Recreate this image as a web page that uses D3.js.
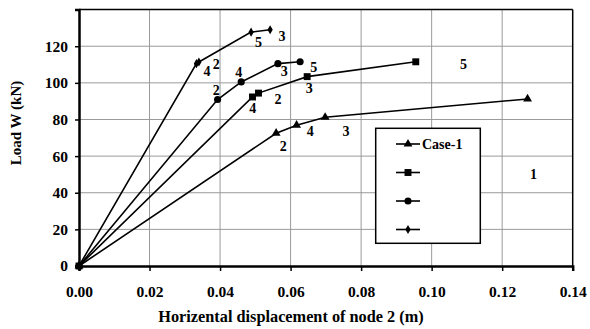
<!DOCTYPE html>
<html>
<head>
<meta charset="utf-8">
<script src="https://cdn.jsdelivr.net/npm/d3@7/dist/d3.min.js"></script>
<style>
  html, body { margin: 0; padding: 0; background: #fff; }
  svg text { font-family: "Liberation Serif", "Times New Roman", serif; font-weight: bold; fill: #000; }
</style>
</head>
<body>
<svg id="chart" width="590" height="329"></svg>
<script>
// load-displacement curves
const case1X = [0, 0.0559, 0.0617, 0.0698, 0.1272];
const case1Y = [0, 72.5, 76.9, 81.2, 91.2];
const case2X = [0, 0.0492, 0.0509, 0.0647, 0.0955];
const case2Y = [0, 92.3, 94.4, 103.4, 111.5];
const case3X = [0, 0.0393, 0.0460, 0.0564, 0.0627];
const case3Y = [0, 90.9, 100.5, 110.5, 111.5];
const case4X = [0, 0.0333, 0.0340, 0.0488, 0.0542];
const case4Y = [0, 110.5, 111.4, 127.7, 129.0];

const seriesNames = ['Case-1', '', '', ''];
const seriesMarkers = ['triangle', 'square', 'circle', 'diamond'];

// small point-number annotations
const noteX = [0.0579, 0.0656, 0.0757, 0.1289,
               0.0493, 0.0564, 0.0653, 0.1090,
               0.0389, 0.0453, 0.0582, 0.0666,
               0.0363, 0.0389, 0.0509, 0.0576];
const noteY = [65.5, 73.7, 73.9, 50.1,
               86.1, 91.2, 97.4, 110.0,
               96.0, 105.8, 106.3, 108.8,
               106.3, 110.3, 122.3, 125.7];
const noteText = ['2', '4', '3', '1',
                  '4', '2', '3', '5',
                  '2', '4', '3', '5',
                  '4', '2', '5', '3'];

const xTicks = [0, 0.02, 0.04, 0.06, 0.08, 0.10, 0.12, 0.14];
const yTicks = [0, 20, 40, 60, 80, 100, 120];

const svg = d3.select('#chart');
const plotL = 79, plotR = 572.7, plotT = 9.6, plotB = 266;

const x = d3.scaleLinear().domain([0, 0.14]).range([plotL, plotR]);
const y = d3.scaleLinear().domain([0, 140]).range([plotB, plotT]);

// grid
const grid = svg.append('g');
grid.selectAll('line.v').data(xTicks.slice(1, -1)).join('line')
  .attr('x1', d => x(d)).attr('x2', d => x(d)).attr('y1', plotT).attr('y2', plotB)
  .attr('stroke', '#9a9a9a').attr('stroke-width', 1);
grid.selectAll('line.h').data(yTicks.slice(1)).join('line')
  .attr('x1', plotL).attr('x2', plotR).attr('y1', d => y(d)).attr('y2', d => y(d))
  .attr('stroke', '#9a9a9a').attr('stroke-width', 1);

// frame top/right
svg.append('line').attr('x1', plotL).attr('x2', plotR).attr('y1', plotT).attr('y2', plotT)
  .attr('stroke', '#000').attr('stroke-width', 1.5);
svg.append('line').attr('x1', plotR).attr('x2', plotR).attr('y1', plotT).attr('y2', plotB)
  .attr('stroke', '#000').attr('stroke-width', 1.5);

// axes
const xAxis = svg.append('g').attr('transform', `translate(0,${plotB})`)
  .call(d3.axisBottom(x).tickValues(xTicks).tickFormat(d3.format('.2f')).tickSize(5).tickPadding(15));
const yAxis = svg.append('g').attr('transform', `translate(${plotL},0)`)
  .call(d3.axisLeft(y).tickValues(yTicks).tickSize(4).tickPadding(7));
[xAxis, yAxis].forEach(a => {
  a.attr('font-size', 15.5).attr('font-family', null);
  a.select('.domain').attr('stroke', '#000').attr('stroke-width', 2.5);
  a.selectAll('.tick line').attr('stroke', '#000').attr('stroke-width', 1.5);
  a.selectAll('.tick text').attr('font-size', 15.5);
});

// titles
svg.append('text').attr('x', 291).attr('y', 322).attr('text-anchor', 'middle')
  .attr('font-size', 16.3).text('Horizental displacement of node 2 (m)');
svg.append('text').attr('transform', 'translate(21,123) rotate(-90)').attr('text-anchor', 'middle')
  .attr('font-size', 15).text('Load W (kN)');

const symbolFor = { triangle: d3.symbolTriangle, square: d3.symbolSquare, circle: d3.symbolCircle, diamond: d3.symbolDiamond };
const sizeFor = { triangle: 34, square: 48, circle: 40, diamond: 24 };

function marker(g, kind, cx, cy) {
  g.append('path').attr('d', d3.symbol().type(symbolFor[kind]).size(sizeFor[kind])())
    .attr('transform', `translate(${cx},${cy})`).attr('fill', '#000');
}

const allX = [case1X, case2X, case3X, case4X];
const allY = [case1Y, case2Y, case3Y, case4Y];
const line = d3.line().x(d => x(d[0])).y(d => y(d[1]));

allX.forEach((xs, i) => {
  const pts = xs.map((v, j) => [v, allY[i][j]]);
  const g = svg.append('g');
  g.append('path').attr('d', line(pts)).attr('fill', 'none').attr('stroke', '#000').attr('stroke-width', 1.6);
  pts.forEach(p => marker(g, seriesMarkers[i], x(p[0]), y(p[1])));
});

// annotations
svg.append('g').selectAll('text').data(noteText).join('text')
  .attr('x', (d, i) => x(noteX[i])).attr('y', (d, i) => y(noteY[i]))
  .attr('text-anchor', 'middle').attr('dy', '0.35em').attr('font-size', 14).text(d => d);

// legend
const lg = svg.append('g');
lg.append('rect').attr('x', 375.7).attr('y', 128.3).attr('width', 104.6).attr('height', 115)
  .attr('fill', '#fff').attr('stroke', '#000').attr('stroke-width', 1.5);
seriesNames.forEach((name, i) => {
  const ly = 144 + i * 28.5;
  lg.append('line').attr('x1', 396).attr('x2', 420).attr('y1', ly).attr('y2', ly)
    .attr('stroke', '#000').attr('stroke-width', 1.6);
  marker(lg, seriesMarkers[i], 408, ly);
  lg.append('text').attr('x', 422).attr('y', ly).attr('dy', '0.35em').attr('font-size', 14).text(name);
});
</script>
</body>
</html>
